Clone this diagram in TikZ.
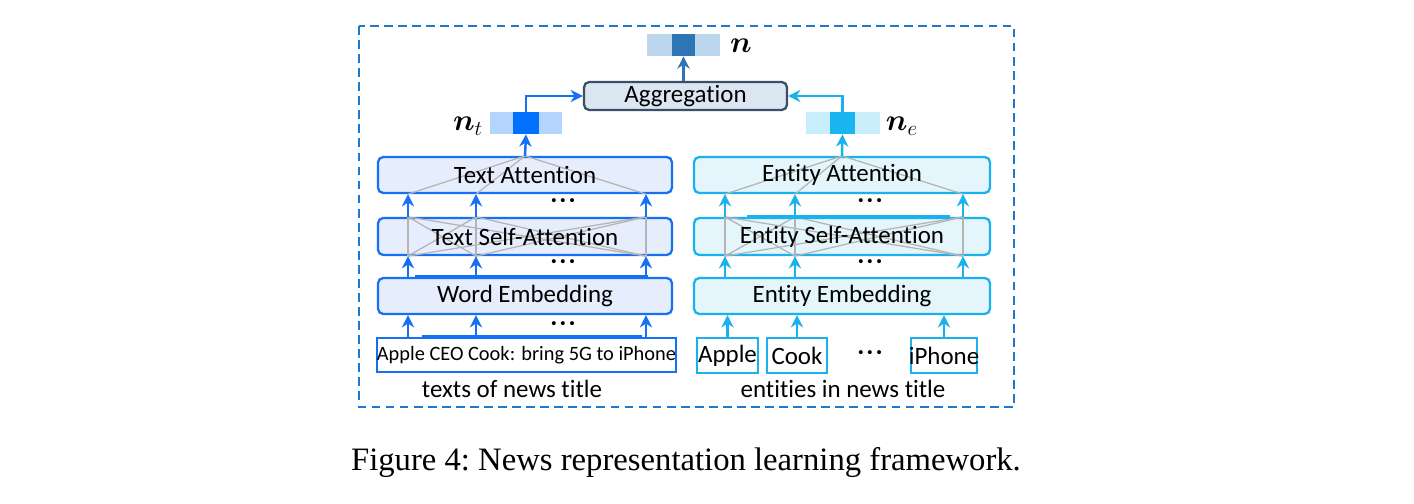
\documentclass[tikz,border=0pt]{standalone}
\usepackage{fontspec}
\usepackage{bm}
\usetikzlibrary{arrows.meta}
\newfontfamily\carl[Ligatures=NoCommon]{Carlito}
\newfontfamily\capfont{Liberation Serif}
\definecolor{tblue}{HTML}{1670F5}
\definecolor{tfill}{HTML}{E6EDFC}
\definecolor{eblue}{HTML}{1AB2EE}
\definecolor{efill}{HTML}{E4F5FB}
\definecolor{tlight}{HTML}{B3D4FF}
\definecolor{tdark}{HTML}{0070FF}
\definecolor{elight}{HTML}{C9EEFB}
\definecolor{edark}{HTML}{18B5F0}
\definecolor{nlight}{HTML}{BDD7EE}
\definecolor{ndark}{HTML}{2E75B6}
\definecolor{aggfill}{HTML}{DCE6F2}
\definecolor{aggdraw}{HTML}{3B4E69}
\definecolor{framecol}{HTML}{2078CC}
\definecolor{attgray}{HTML}{B4B4B4}
\tikzset{
  lbl/.style={font=\carl\fontsize{14.2}{16}\selectfont, text=black, inner sep=0pt},
  tbox/.style={draw=tblue, fill=tfill, rounded corners=3pt, line width=1.3pt, minimum width={294*0.02cm}, minimum height={36*0.02cm}, inner sep=0pt},
  ebox/.style={draw=eblue, fill=efill, rounded corners=3pt, line width=1.3pt, minimum width={296*0.02cm}, minimum height={36*0.02cm}, inner sep=0pt},
  tarr/.style={-{Stealth[length=7pt,width=7pt]}, draw=tblue, line width=1.4pt},
  earr/.style={-{Stealth[length=7pt,width=7pt]}, draw=eblue, line width=1.4pt},
  narr/.style={-{Stealth[length=7pt,width=7pt]}, draw=ndark, line width=1.4pt},
  att/.style={draw=attgray, line width=0.7pt},
  cell/.style={minimum height={22*0.02cm}, inner sep=0pt, draw=none},
  bar/.style={line width=1.9pt},
  dots/.style={font=\carl\fontsize{16}{18}\selectfont, inner sep=0pt},
  mlbl/.style={inner sep=0pt, font=\fontsize{18}{20}\selectfont},
}
\newcommand\mydots{\textperiodcentered\hspace{1.2pt}\textperiodcentered\hspace{1.2pt}\textperiodcentered}
\begin{document}
\begin{tikzpicture}[x=0.02cm, y=-0.02cm]
\useasboundingbox (0,0) rectangle (1414,504);
\fill[white] (0,0) rectangle (1414,504);
% frame
\draw[framecol, line width=1.5pt, dash pattern=on 5pt off 3pt] (359,26) rectangle (1014,407);
% columns
\coordinate (tc1) at (408,0);
\coordinate (tc2) at (476,0);
\coordinate (tc3) at (646,0);
\coordinate (ec1) at (725,0);
\coordinate (ec2) at (795,0);
\coordinate (ec3) at (963,0);
% text side boxes
\node[tbox] (ta) at (525,175) {};
\node[tbox, minimum height={37*0.02cm}] (tsa) at (525,236.5) {};
\node[tbox] (twe) at (525,296) {};
\node[draw=tblue, fill=white, line width=1pt, minimum width={299*0.02cm}, minimum height={34*0.02cm}, inner sep=0pt] (tin) at (526.5,355) {};
% entity side boxes
\node[ebox] (ea) at (842,175) {};
\node[ebox, minimum height={37*0.02cm}] (esa) at (842,236.5) {};
\node[ebox] (eemb) at (842,296) {};
\node[draw=eblue, fill=white, line width=1pt, minimum width={61*0.02cm}, minimum height={35*0.02cm}, inner sep=0pt] (eapple) at (727.5,355.5) {};
\node[draw=eblue, fill=white, line width=1pt, minimum width={60*0.02cm}, minimum height={35*0.02cm}, inner sep=0pt] (ecook) at (797,355.5) {};
\node[draw=eblue, fill=white, line width=1pt, minimum width={66*0.02cm}, minimum height={35*0.02cm}, inner sep=0pt] (eiphone) at (944,355.5) {};
% attention lines (text)
\foreach \c in {tc1,tc2,tc3}{
  \draw[att] (ta.south -| \c) -- (ta.north);
  \foreach \d in {tc1,tc2,tc3}{
    \draw[att] (tsa.south -| \c) -- (tsa.north -| \d);
  }
}
% attention lines (entity)
\foreach \c in {ec1,ec2,ec3}{
  \draw[att] (ea.south -| \c) -- (ea.north);
  \foreach \d in {ec1,ec2,ec3}{
    \draw[att] (esa.south -| \c) -- (esa.north -| \d);
  }
}
% labels
\node[lbl] (lta) at (ta) {Text Attention};
\node[lbl] (ltsa) at (tsa) {Text Self-Attention};
\node[lbl] (ltwe) at (twe) {Word Embedding};
\node[lbl, font=\carl\fontsize{11.6}{13}\selectfont] (ltin) at (tin) {Apple CEO Cook: bring 5G to iPhone};
\node[lbl] (lea) at (ea) {Entity Attention};
\node[lbl] (lesa) at (esa) {Entity Self-Attention};
\node[lbl] (leemb) at (eemb) {Entity Embedding};
\node[lbl] (lapple) at (eapple) {Apple};
\node[lbl] (lcook) at (ecook) {Cook};
\node[lbl] (liphone) at (eiphone) {iPhone};
\node[lbl] (ltcap) at (512,389) {texts of news title};
\node[lbl] (lecap) at (843,389) {entities in news title};
% dots
\node[dots] (td1) at (563,204) {\mydots};
\node[dots] (td2) at (563,265) {\mydots};
\node[dots] (td3) at (563,327) {\mydots};
\node[dots] (ed1) at (870,204) {\mydots};
\node[dots] (ed2) at (870,265) {\mydots};
\node[dots] (ed3) at (870,356) {\mydots};
% bars
\draw[bar, tblue] (twe.north -| 415,0) -- (twe.north -| 648,0);
\draw[bar, tblue] (tin.north -| 422,0) -- (tin.north -| 642,0);
\draw[bar, eblue] (esa.north -| 747,0) -- (esa.north -| 950,0);
% text arrows
\foreach \c in {tc1,tc2,tc3}{
  \draw[tarr] (tin.north -| \c) -- (twe.south -| \c);
  \draw[tarr] (twe.north -| \c) -- (tsa.south -| \c);
  \draw[tarr] (tsa.north -| \c) -- (ta.south -| \c);
}
% entity arrows
\draw[earr] (eapple.north) -- (eemb.south -| eapple);
\draw[earr] (ecook.north) -- (eemb.south -| ecook);
\draw[earr] (eiphone.north) -- (eemb.south -| eiphone);
\foreach \c in {ec1,ec2,ec3}{
  \draw[earr] (eemb.north -| \c) -- (esa.south -| \c);
  \draw[earr] (esa.north -| \c) -- (ea.south -| \c);
}
% vectors
\node[cell, fill=tlight, minimum width={72*0.02cm}] (ntv) at (526,123) {};
\node[cell, fill=tdark, minimum width={26*0.02cm}] (ntd) at (526,123) {};
\node[cell, fill=elight, minimum width={74*0.02cm}] (nev) at (843,123) {};
\node[cell, fill=edark, minimum width={25*0.02cm}] (ned) at (842.5,123) {};
\node[cell, fill=nlight, minimum width={73*0.02cm}] (nv) at (683.5,45) {};
\node[cell, fill=ndark, minimum width={23*0.02cm}] (nd) at (683.5,45) {};
\node[mlbl] (lnt) at (468,126) {$\bm{n}_t$};
\node[mlbl] (lne) at (902,126) {$\bm{n}_e$};
\node[mlbl] (ln) at (741,46) {$\bm{n}$};
% aggregation
\node[draw=aggdraw, fill=aggfill, rounded corners=3pt, line width=1.3pt, minimum width={203*0.02cm}, minimum height={28*0.02cm}, inner sep=0pt, lbl] (agg) at (685.5,96) {Aggregation};
% top arrows
\draw[tarr] (ta.north) -- (ntd.south);
\draw[earr] (ea.north) -- (ned.south);
\draw[tarr] (ntd.north) |- (agg.west);
\draw[earr] (ned.north) |- (agg.east);
\draw[narr] (agg.north -| nd) -- (nd.south);
% caption
\node[inner sep=0pt, font=\capfont\fontsize{18.6}{22}\selectfont] (cap) at (686,463) {Figure 4:\ News representation learning framework.};
\end{tikzpicture}
\end{document}
